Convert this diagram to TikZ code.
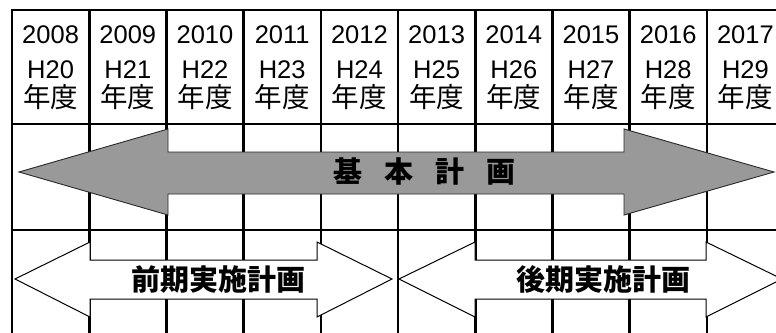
\documentclass[tikz,border=0pt]{standalone}
\usepackage{fontspec}
\setmainfont{Liberation Sans}
\newfontfamily\cjk{Noto Sans CJK JP}
\definecolor{arrowgray}{RGB}{153,153,153}
\definecolor{edgegray}{RGB}{40,40,40}
\tikzset{
  gridline/.style={line width=2.6pt, black, line cap=rect},
  bigarrow/.style={fill=arrowgray, draw=edgegray, line width=0.9pt, line join=miter},
  planarrow/.style={fill=white, draw=black, line width=1pt, line join=miter},
  numtext/.style={font=\fontsize{25.5}{30}\selectfont, anchor=base, inner sep=0pt},
  jtext/.style={font=\cjk\fontsize{27.5}{30}\selectfont, anchor=base, inner sep=0pt},
  labeltext/.style={font=\cjk\bfseries\fontsize{29}{30}\selectfont, inner sep=0pt},
}
\begin{document}
\begin{tikzpicture}[x=1pt,y=-1pt]
\useasboundingbox (0,0) rectangle (776,332);
\clip (0,0) rectangle (776,332);
% grid
\foreach \i in {0,...,9} {
  \draw[gridline] ({12+77.2*\i},10) -- ({12+77.2*\i},340);
}
\foreach \yy in {10,124,230} {
  \draw[gridline] (12,\yy) -- (790,\yy);
}
% header texts
\foreach \yr [count=\n from 0] in {2008,2009,2010,2011,2012,2013,2014,2015,2016,2017} {
  \pgfmathtruncatemacro{\hn}{20+\n}
  \pgfmathsetmacro{\cx}{12+77.2*\n+38.6}
  \node[numtext] (yr\n) at (\cx,43) {\yr};
  \node[numtext] (h\n) at (\cx,78) {H\hn};
  \node[jtext] (nd\n) at (\cx,107) {年度};
}
% basic plan arrow
\draw[bigarrow] (19,172) -- (168,129) -- (168,152) -- (624,152) -- (624,129)
  -- (774,172) -- (624,215) -- (624,194) -- (168,194) -- (168,215) -- cycle;
\node[labeltext] (kihon) at (424.5,171) {基\hspace{22pt}本\hspace{22pt}計\hspace{22pt}画};
% first half plan arrow
\draw[planarrow] (15,279) -- (90,242) -- (90,260) -- (317,260) -- (317,242)
  -- (392,279) -- (317,317) -- (317,299) -- (90,299) -- (90,317) -- cycle;
\node[labeltext] (zenki) at (218,279) {前期実施計画};
% second half plan arrow
\draw[planarrow] (399,279) -- (475,242) -- (475,260) -- (706,260) -- (706,242)
  -- (782,279) -- (706,317) -- (706,299) -- (475,299) -- (475,317) -- cycle;
\node[labeltext] (kouki) at (603,279) {後期実施計画};
\end{tikzpicture}
\end{document}
